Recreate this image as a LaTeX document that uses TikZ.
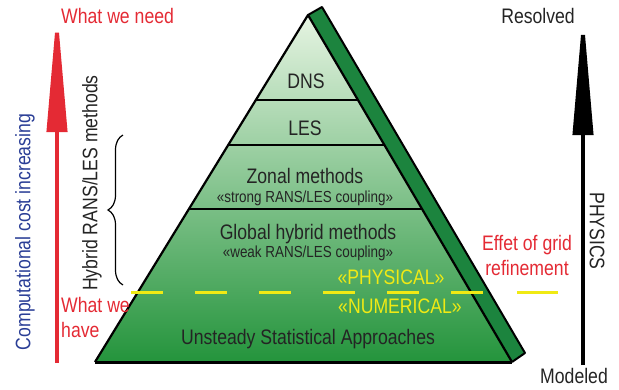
\documentclass[tikz,border=0pt]{standalone}
\usepackage{fontspec}
\setmainfont[FakeStretch=0.84]{Liberation Sans}
\usetikzlibrary{arrows.meta,calc,decorations.pathreplacing}
\definecolor{cred}{RGB}{228,42,52}
\definecolor{cblue}{RGB}{42,62,150}
\definecolor{cyel}{RGB}{240,234,20}
\definecolor{ctxt}{RGB}{36,36,36}
\definecolor{cband}{RGB}{28,132,62}
\definecolor{gtop}{RGB}{230,244,226}
\definecolor{gmid}{RGB}{130,202,130}
\definecolor{gbot}{RGB}{36,148,60}
\tikzset{
  big/.style={font=\fontsize{21}{23}\selectfont, inner sep=0pt},
  small/.style={font=\fontsize{16}{18}\selectfont, inner sep=0pt},
  lbl/.style={big, text=ctxt, anchor=base},
  sublbl/.style={small, text=ctxt, anchor=base},
  divider/.style={line width=2pt, black},
  ydash/.style={cyel, line width=3pt},
}
\begin{document}
\begin{tikzpicture}[x=1pt,y=-1pt]
\useasboundingbox (0,0) rectangle (619,389);
% pyramid geometry
\coordinate (apex) at (308,15);
\coordinate (bl) at (95,362);
\coordinate (br) at (512,362);
\coordinate (bt) at (322,7);
\coordinate (bbr) at (525,353);
% side band
\fill[cband] (apex) -- (bt) -- (bbr) -- (br) -- cycle;
\draw[line width=2pt, line join=round] (apex) -- (bt) -- (bbr) -- (br);
% front face
\shade[top color=gtop, middle color=gmid, bottom color=gbot] (apex) -- (bl) -- (br) -- cycle;
\draw[divider] ($(apex)!0.245!(bl)$) -- ($(apex)!0.245!(br)$);
\draw[divider] ($(apex)!0.3746!(bl)$) -- ($(apex)!0.3746!(br)$);
\draw[divider] ($(apex)!0.559!(bl)$) -- ($(apex)!0.559!(br)$);
\draw[line width=2.2pt, line join=round] (br) -- (apex) -- (bl);
\draw[line width=3pt] (bl) -- (br);
% labels on pyramid
\node[lbl] (dns) at (306,88) {DNS};
\node[lbl] (les) at (305,135) {LES};
\node[lbl] (zonal) at (305,183) {Zonal methods};
\node[sublbl] (strong) at (305,202) {«strong RANS/LES coupling»};
\node[lbl] (global) at (308,239) {Global hybrid methods};
\node[sublbl] (weak) at (308,257) {«weak RANS/LES coupling»};
\node[lbl] (usa) at (308,344) {Unsteady Statistical Approaches};
\node[big, text=cyel, anchor=base] (phys) at (391,284) {«PHYSICAL»};
\node[big, text=cyel, anchor=base] (num) at (400,313) {«NUMERICAL»};
% yellow dashed line
\coordinate (d1) at (131,292);
\coordinate (d2) at (483,292);
\coordinate (d3) at (517,292);
\coordinate (d4) at (558,292);
\draw[ydash, dash pattern=on 32pt off 32pt] (d1) -- (d2);
\draw[ydash] (d3) -- (d4);
% red arrow
\coordinate (rb) at (57,363);
\coordinate (rt) at (57,8);
\draw[cred, line width=4pt, -{Triangle[length=124pt,width=20pt]}] (rb) -- (rt);
\node[big, text=cred, anchor=base west] (need) at (61,23) {What we need};
\node[big, text=cred, anchor=base west] (have1) at (61,312) {What we};
\node[big, text=cred, anchor=base west] (have2) at (61,337) {have};
% black arrow
\coordinate (kb) at (583,365);
\coordinate (kt) at (583,10);
\draw[black, line width=4pt, -{Triangle[length=125pt,width=20pt]}] (kb) -- (kt);
\node[big, text=ctxt, anchor=base east] (res) at (575,23) {Resolved};
\node[big, text=ctxt, anchor=base west] (mod) at (540,383) {Modeled};
\node[big, text=ctxt, rotate=-90] (phy) at (597,231) {PHYSICS};
% grid refinement
\node[big, text=cred, anchor=base] (eff1) at (527,250) {Effet of grid};
\node[big, text=cred, anchor=base] (eff2) at (527,275) {refinement};
% left rotated texts
\node[big, text=cblue, rotate=90] (cost) at (25,232) {Computational cost increasing};
\node[big, text=ctxt, rotate=90] (hyb) at (92,183) {Hybrid RANS/LES methods};
% brace
\coordinate (brb) at (123,285);
\coordinate (brt) at (123,135);
\draw[line width=1.2pt, decorate, decoration={brace, amplitude=15pt}] (brb) -- (brt);
\end{tikzpicture}
\end{document}
